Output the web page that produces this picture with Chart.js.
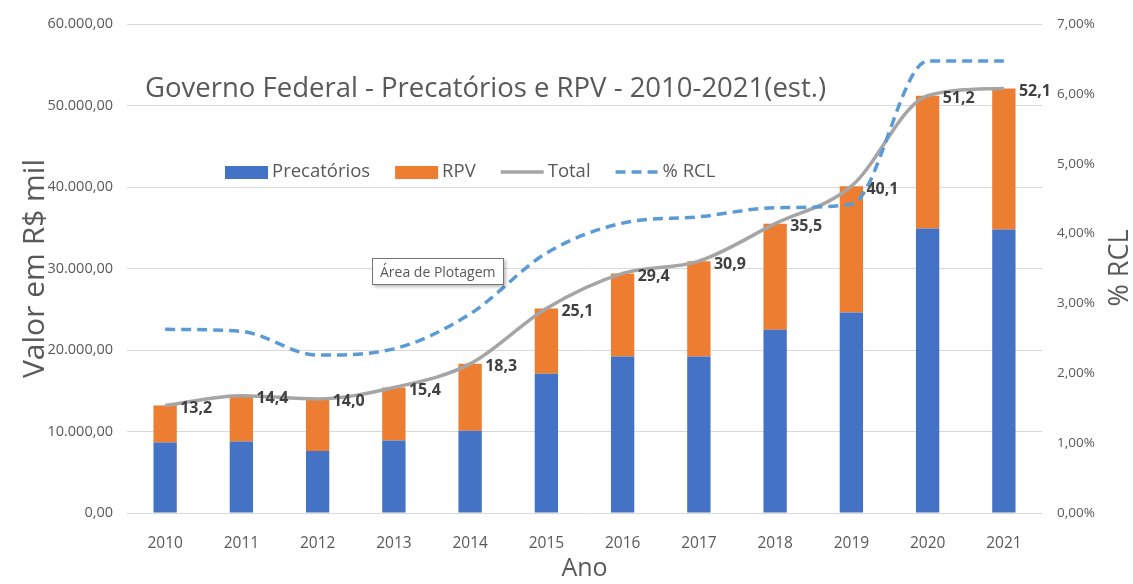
<!DOCTYPE html>
<html>
<head>
<meta charset="utf-8">
<script src="https://cdn.jsdelivr.net/npm/chart.js@4.4.0/dist/chart.umd.min.js"></script>
<style>
  body { margin: 0; background: #fff; }
  #wrap { position: relative; width: 1133px; height: 584px; }
  #tip {
    position: absolute; left: 372px; top: 258px;
    padding: 3px 7px; background: #fff; border: 1px solid #767676;
    box-shadow: 2px 2px 3px rgba(0,0,0,0.25);
    font: 14px 'Open Sans', sans-serif; color: #595959;
  }
</style>
</head>
<body>
<div id="wrap">
  <canvas id="chart"></canvas>
  <div id="tip">Área de Plotagem</div>
</div>
<script>
// anos
const anos = ['2010', '2011', '2012', '2013', '2014', '2015', '2016', '2017', '2018', '2019', '2020', '2021'];
// valores em R$ mil
const precatorios = [8640, 8770, 7600, 8900, 10100, 17100, 19200, 19200, 22500, 24600, 34900, 34800];
const rpv = [4560, 5630, 6400, 6500, 8200, 8000, 10200, 11700, 13000, 15500, 16300, 17300];
const total = [13200, 14400, 14000, 15400, 18300, 25100, 29400, 30900, 35500, 40100, 51200, 52100];
// % da RCL
const pctRcl = [2.63, 2.60, 2.26, 2.35, 2.85, 3.72, 4.15, 4.24, 4.37, 4.42, 6.47, 6.47];

const cinza = '#595959';
Chart.defaults.font.family = "'Open Sans', sans-serif";
Chart.defaults.color = cinza;

function fmtMil(v) {
    const s = Math.round(v).toString().replace(/\B(?=(\d{3})+(?!\d))/g, '.');
    return s + ',00';
}

const extras = {
    id: 'extras',
    afterDatasetsDraw(chart) {
        const ctx = chart.ctx;
        // rotulos do total
        const meta = chart.getDatasetMeta(2);
        ctx.save();
        ctx.font = 'bold 16px "Open Sans", sans-serif';
        ctx.fillStyle = '#404040';
        ctx.textAlign = 'left';
        ctx.textBaseline = 'middle';
        meta.data.forEach((pt, i) => {
            const txt = (total[i] / 1000).toFixed(1).replace('.', ',');
            ctx.fillText(txt, pt.x + 15, pt.y + 3);
        });
        ctx.restore();
    },
    afterDraw(chart) {
        const ctx = chart.ctx;
        ctx.save();
        // titulo
        ctx.font = '27.5px "Open Sans", sans-serif';
        ctx.fillStyle = cinza;
        ctx.textAlign = 'left';
        ctx.textBaseline = 'middle';
        ctx.fillText('Governo Federal - Precatórios e RPV - 2010-2021(est.)', 145, 89);

        // titulo do eixo direito
        ctx.save();
        ctx.translate(1120, 268);
        ctx.rotate(-Math.PI / 2);
        ctx.textAlign = 'center';
        ctx.font = '27px "Open Sans", sans-serif';
        ctx.fillText('% RCL', 0, 0);
        ctx.restore();

        // legenda
        ctx.font = '18.5px "Open Sans", sans-serif';
        let x = 225;
        const y = 172;
        chart.data.datasets.forEach(ds => {
            if (ds.type === 'bar') {
                ctx.fillStyle = ds.backgroundColor;
                ctx.fillRect(x, y - 6, 43, 13);
            } else {
                ctx.strokeStyle = ds.borderColor;
                ctx.lineWidth = 3.5;
                ctx.setLineDash(ds.borderDash || []);
                ctx.beginPath();
                ctx.moveTo(x, y);
                ctx.lineTo(x + 43, y);
                ctx.stroke();
                ctx.setLineDash([]);
            }
            ctx.fillStyle = cinza;
            ctx.fillText(ds.label, x + 47, y);
            x += 47 + ctx.measureText(ds.label).width + 25;
        });
        ctx.restore();
    }
};

new Chart(document.getElementById('chart'), {
    data: {
        labels: anos,
        datasets: [
            {
                type: 'bar', label: 'Precatórios', data: precatorios,
                backgroundColor: '#4472C4', yAxisID: 'y', order: 2,
                barPercentage: 0.306, categoryPercentage: 1
            },
            {
                type: 'bar', label: 'RPV', data: rpv,
                backgroundColor: '#ED7D31', yAxisID: 'y', order: 2,
                barPercentage: 0.306, categoryPercentage: 1
            },
            {
                type: 'line', label: 'Total', data: total,
                borderColor: '#A5A5A5', borderWidth: 3.5, pointRadius: 0,
                cubicInterpolationMode: 'monotone', yAxisID: 'y', stack: 'tot', order: 1
            },
            {
                type: 'line', label: '% RCL', data: pctRcl,
                borderColor: '#5B9BD5', borderWidth: 3.5, borderDash: [10, 6],
                pointRadius: 0, cubicInterpolationMode: 'monotone', yAxisID: 'y1', order: 0
            }
        ]
    },
    options: {
        responsive: true,
        maintainAspectRatio: false,
        animation: false,
        layout: { padding: { top: 24, left: 0, right: 0, bottom: 0 } },
        plugins: {
            legend: { display: false },
            tooltip: { enabled: false }
        },
        scales: {
            x: {
                stacked: true,
                grid: { display: false },
                border: { display: false },
                ticks: { color: cinza, font: { size: 15.5 }, padding: 13 },
                title: { display: true, text: 'Ano', color: cinza, font: { size: 25 }, padding: 0 },
                afterFit: s => { s.height = 71; }
            },
            y: {
                stacked: true,
                min: 0, max: 60000,
                grid: { color: '#D9D9D9', drawTicks: false },
                border: { display: false },
                ticks: { stepSize: 10000, color: cinza, font: { size: 14.5 }, padding: 14, callback: v => fmtMil(v) },
                title: { display: true, text: 'Valor em R$ mil', color: cinza, font: { size: 30 }, padding: { top: 17 } },
                afterFit: s => { s.width = 127; s.paddingTop = 10; s.paddingBottom = 10; }
            },
            y1: {
                position: 'right',
                min: 0, max: 7,
                grid: { display: false, drawTicks: false },
                border: { display: false },
                ticks: { stepSize: 1, color: cinza, font: { size: 13.5 }, padding: 15,
                    callback: v => v.toFixed(2).replace('.', ',') + '%' },
                afterFit: s => { s.width = 91; s.paddingTop = 10; s.paddingBottom = 10; }
            }
        }
    },
    plugins: [extras]
});
</script>
</body>
</html>
